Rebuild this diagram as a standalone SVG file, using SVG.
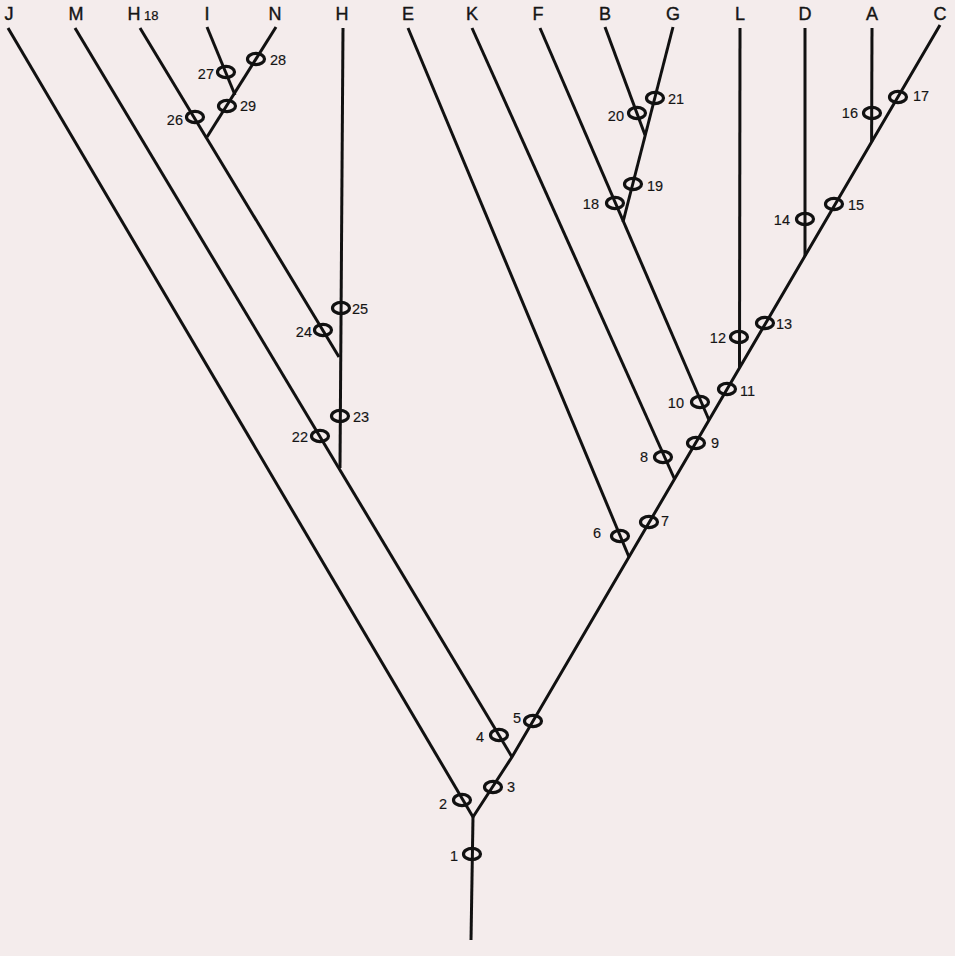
<svg xmlns="http://www.w3.org/2000/svg" width="955" height="956" viewBox="0 0 955 956">
<style>
.ln{stroke:#111;stroke-width:3;fill:none;stroke-linecap:butt;stroke-linejoin:miter}
.mk{fill:none;stroke:#111;stroke-width:3.2}
.tx{font-family:"Liberation Sans",Arial,sans-serif;font-size:18px;fill:#151515;stroke:#151515;stroke-width:0.4;text-anchor:middle}
.sm{font-family:"Liberation Sans",Arial,sans-serif;font-size:13px;fill:#151515;stroke:#151515;stroke-width:0.25}
.nl{font-family:"Liberation Sans",Arial,sans-serif;font-size:14.5px;fill:#151515;stroke:#151515;stroke-width:0.15}
.e{text-anchor:end}
.s{text-anchor:start}
</style>
<rect width="955" height="956" fill="#f4ecec"/>
<g id="connectors">
<polyline class="ln" points="471,940 473,817"/>
<polyline class="ln" points="473,817 8,28"/>
<polyline class="ln" points="473,817 512,757 940,25"/>
<polyline class="ln" points="512,757 75,28"/>
<polyline class="ln" points="340,468 343,28"/>
<polyline class="ln" points="339,357 140,28"/>
<polyline class="ln" points="207,137 276,27"/>
<polyline class="ln" points="235,95 207,27"/>
<polyline class="ln" points="629,557 408,28"/>
<polyline class="ln" points="674.5,479 472,28"/>
<polyline class="ln" points="709,420 540,28"/>
<polyline class="ln" points="739.5,368 740,28"/>
<polyline class="ln" points="623,222 673,27"/>
<polyline class="ln" points="645,135 605,27"/>
<polyline class="ln" points="805,256 805,28"/>
<polyline class="ln" points="871.6,142 872,28"/>
</g>
<g id="taxa">
<g id="J"><text class="tx" x="9" y="20">J</text></g>
<g id="M"><text class="tx" x="76" y="20">M</text></g>
<g id="H18"><text class="tx" x="134" y="20">H</text><text class="sm" x="144" y="20">18</text></g>
<g id="I"><text class="tx" x="207" y="20">I</text></g>
<g id="N"><text class="tx" x="275" y="20">N</text></g>
<g id="H"><text class="tx" x="342" y="20">H</text></g>
<g id="E"><text class="tx" x="408" y="20">E</text></g>
<g id="K"><text class="tx" x="472" y="20">K</text></g>
<g id="F"><text class="tx" x="538" y="20">F</text></g>
<g id="B"><text class="tx" x="605" y="20">B</text></g>
<g id="G"><text class="tx" x="673" y="20">G</text></g>
<g id="L"><text class="tx" x="740" y="20">L</text></g>
<g id="D"><text class="tx" x="805" y="20">D</text></g>
<g id="A"><text class="tx" x="872" y="20">A</text></g>
<g id="C"><text class="tx" x="940" y="20">C</text></g>
</g>
<g id="markers">
<g id="m1"><ellipse class="mk" cx="472" cy="854" rx="8.5" ry="5.6"/><text class="nl e" x="458" y="861">1</text></g>
<g id="m2"><ellipse class="mk" cx="462" cy="800" rx="8.5" ry="5.6"/><text class="nl e" x="447" y="809">2</text></g>
<g id="m3"><ellipse class="mk" cx="493" cy="787" rx="8.5" ry="5.6"/><text class="nl s" x="507" y="792">3</text></g>
<g id="m4"><ellipse class="mk" cx="499" cy="735" rx="8.5" ry="5.6"/><text class="nl e" x="484" y="742">4</text></g>
<g id="m5"><ellipse class="mk" cx="533" cy="721" rx="8.5" ry="5.6"/><text class="nl e" x="521" y="723">5</text></g>
<g id="m6"><ellipse class="mk" cx="620" cy="536" rx="8.5" ry="5.6"/><text class="nl e" x="601" y="538">6</text></g>
<g id="m7"><ellipse class="mk" cx="649" cy="522" rx="8.5" ry="5.6"/><text class="nl s" x="661" y="526">7</text></g>
<g id="m8"><ellipse class="mk" cx="663" cy="457" rx="8.5" ry="5.6"/><text class="nl e" x="648" y="462">8</text></g>
<g id="m9"><ellipse class="mk" cx="696" cy="443" rx="8.5" ry="5.6"/><text class="nl s" x="711" y="448">9</text></g>
<g id="m10"><ellipse class="mk" cx="700" cy="402" rx="8.5" ry="5.6"/><text class="nl e" x="684" y="408">10</text></g>
<g id="m11"><ellipse class="mk" cx="727" cy="389" rx="8.5" ry="5.6"/><text class="nl s" x="740" y="396">11</text></g>
<g id="m12"><ellipse class="mk" cx="739" cy="337" rx="8.5" ry="5.6"/><text class="nl e" x="726" y="343">12</text></g>
<g id="m13"><ellipse class="mk" cx="765" cy="323" rx="8.5" ry="5.6"/><text class="nl s" x="776" y="329">13</text></g>
<g id="m14"><ellipse class="mk" cx="805" cy="219" rx="8.5" ry="5.6"/><text class="nl e" x="790" y="225">14</text></g>
<g id="m15"><ellipse class="mk" cx="834" cy="204" rx="8.5" ry="5.6"/><text class="nl s" x="848" y="210">15</text></g>
<g id="m16"><ellipse class="mk" cx="872" cy="113" rx="8.5" ry="5.6"/><text class="nl e" x="858" y="118">16</text></g>
<g id="m17"><ellipse class="mk" cx="898" cy="97" rx="8.5" ry="5.6"/><text class="nl s" x="913" y="101">17</text></g>
<g id="m18"><ellipse class="mk" cx="615" cy="203" rx="8.5" ry="5.6"/><text class="nl e" x="599" y="209">18</text></g>
<g id="m19"><ellipse class="mk" cx="633" cy="184" rx="8.5" ry="5.6"/><text class="nl s" x="647" y="191">19</text></g>
<g id="m20"><ellipse class="mk" cx="637" cy="113" rx="8.5" ry="5.6"/><text class="nl e" x="624" y="121">20</text></g>
<g id="m21"><ellipse class="mk" cx="655" cy="98" rx="8.5" ry="5.6"/><text class="nl s" x="668" y="104">21</text></g>
<g id="m22"><ellipse class="mk" cx="320" cy="436" rx="8.5" ry="5.6"/><text class="nl e" x="308" y="442">22</text></g>
<g id="m23"><ellipse class="mk" cx="340" cy="416" rx="8.5" ry="5.6"/><text class="nl s" x="353" y="422">23</text></g>
<g id="m24"><ellipse class="mk" cx="323" cy="330" rx="8.5" ry="5.6"/><text class="nl e" x="312" y="337">24</text></g>
<g id="m25"><ellipse class="mk" cx="341" cy="308" rx="8.5" ry="5.6"/><text class="nl s" x="352" y="314">25</text></g>
<g id="m26"><ellipse class="mk" cx="195" cy="117" rx="8.5" ry="5.6"/><text class="nl e" x="183" y="125">26</text></g>
<g id="m27"><ellipse class="mk" cx="226" cy="72" rx="8.5" ry="5.6"/><text class="nl e" x="214" y="79">27</text></g>
<g id="m28"><ellipse class="mk" cx="256" cy="59" rx="8.5" ry="5.6"/><text class="nl s" x="270" y="65">28</text></g>
<g id="m29"><ellipse class="mk" cx="227" cy="106" rx="8.5" ry="5.6"/><text class="nl s" x="240" y="111">29</text></g>
</g>
</svg>
